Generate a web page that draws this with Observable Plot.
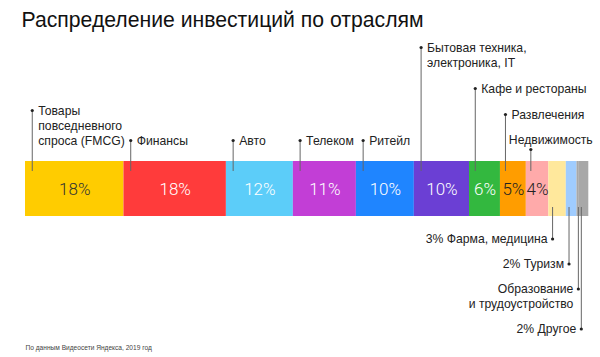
<!DOCTYPE html>
<html><head><meta charset="utf-8">
<script src="https://cdn.jsdelivr.net/npm/d3@7"></script>
<script src="https://cdn.jsdelivr.net/npm/@observablehq/plot@0.6"></script>
<style>html,body{margin:0;padding:0;background:#fff}</style>
</head><body><div id="chart"></div>
<script>
// ---- data ----
const titleText = "Распределение инвестиций по отраслям";
const captionText = "По данным Видеосети Яндекса, 2019 год";
const categories = [
  "Товары\nповседневного\nспроса (FMCG)", "Финансы", "Авто", "Телеком", "Ритейл",
  "Бытовая техника,\nэлектроника, IT", "Кафе и рестораны", "Развлечения", "Недвижимость",
  "Фарма, медицина", "Туризм", "Образование\nи трудоустройство", "Другое"
];
const shares = [17.5, 18.2, 11.9, 11.2, 10.3, 9.8, 5.5, 4.6, 4.0, 3.1, 1.9, 0.3, 1.8];
const pctLabels = ["18%", "18%", "12%", "11%", "10%", "10%", "6%", "5%", "4%", "3%", "2%", "", "2%"];

// ---- styles / layout ----
const colors = ["#FFCC00", "#FF3B3B", "#5CCDF9", "#C23ED6", "#1F85FF", "#6B3FD4", "#33B83F",
  "#FF9D00", "#FFAAAA", "#FFE89C", "#9FCCFF", "#A8A8A8", "#A8A8A8"];
const insideText = ["#333", "#fff", "#fff", "#fff", "#fff", "#fff", "#fff", "#222", "#222"];
const topTier = [1, 1, 1, 1, 1, 4, 3, 2, 0]; // 0 = directly above the bar
const nInside = 9;
const W = 600, H = 357, barTop = 161, barBottom = 216;
const fs = 12.2, lh = 1.23;
const font = "'Liberation Sans', Arial, Helvetica, sans-serif";

const total = d3.sum(shares);
let acc = 0;
const rows = categories.map((name, i) => {
  const start = acc; acc += shares[i];
  const lines = name.split("\n").length;
  return {i, name, lines, share: shares[i], start, end: acc, mid: start + shares[i] / 2,
    pct: pctLabels[i], color: colors[i],
    lx: start + Math.min(1.2, 0.15 * shares[i] + 0.2)};
});

const topRows = rows.slice(0, nInside).map((r, k) => {
  const t = topTier[k];
  if (t === 0) return {...r, special: true, dotY: barTop - 12, textY: barTop - 18, lineY: barTop + 10};
  const lastBase = 144 - 26 * (t - 1);
  return {...r, dotY: lastBase - 4 - (r.lines - 1) * fs * lh, textY: lastBase, lineY: barTop + 10};
});
let cursor = 242;
const bottomRows = rows.slice(nInside).map(r => {
  const first = cursor;
  cursor += 25 + (r.lines - 1) * fs * lh;
  return {...r, label: r.pct ? r.pct + " " + r.name : r.name,
    dotY: first - 3.5, textY: first + (r.lines - 1) * fs * lh, lineY: barBottom - 9};
});
const insideRows = rows.slice(0, nInside).map((r, k) => ({...r, tc: insideText[k], y: (barTop + barBottom) / 2}));
const normalTop = topRows.filter(d => !d.special);
const specialTop = topRows.filter(d => d.special);

const chart = Plot.plot({
  width: W, height: H,
  marginLeft: 25, marginRight: 11.7, marginTop: barTop, marginBottom: H - barBottom,
  style: {fontFamily: font, background: "#fff", overflow: "visible"},
  x: {domain: [0, total], axis: null},
  y: {type: "identity", axis: null},
  marks: [
    Plot.barX(rows, {x1: "start", x2: "end", fill: "color", insetLeft: 0, insetRight: 0}),
    Plot.text(insideRows, {x: "mid", y: "y", text: "pct", fill: "tc", fontSize: 17, dy: 1,
      fontFamily: "Roboto, 'Liberation Sans', sans-serif", fontWeight: 300}),
    Plot.ruleX(topRows, {x: "lx", y1: "dotY", y2: "lineY", stroke: "#666", strokeWidth: 1}),
    Plot.ruleX(bottomRows, {x: "lx", y1: "lineY", y2: "dotY", stroke: "#666", strokeWidth: 1}),
    Plot.dot([...topRows, ...bottomRows], {x: "lx", y: "dotY", r: 1.6, fill: "#222", stroke: null}),
    Plot.text(normalTop, {x: "lx", y: "textY", text: "name", textAnchor: "start", lineAnchor: "bottom",
      dx: 6, fontSize: fs, lineHeight: lh, fill: "#222"}),
    Plot.text(specialTop, {x: "lx", y: "textY", text: "name", textAnchor: "start", lineAnchor: "bottom",
      dx: -22, fontSize: fs, lineHeight: lh, fill: "#222"}),
    Plot.text(bottomRows, {x: "lx", y: "textY", text: "label", textAnchor: "end", lineAnchor: "bottom",
      dx: -5, fontSize: fs, lineHeight: lh, fill: "#222"}),
    Plot.text([{t: titleText, y: 26}], {frameAnchor: "left", y: "y", text: "t", textAnchor: "start",
      lineAnchor: "bottom", dx: -4, fontSize: 21.2, fill: "#111"}),
    Plot.text([{t: captionText, y: 349}], {frameAnchor: "left", y: "y", text: "t", textAnchor: "start",
      lineAnchor: "bottom", fontSize: 6.6, fill: "#444"})
  ]
});
document.getElementById("chart").appendChild(chart);
</script>
</body></html>
